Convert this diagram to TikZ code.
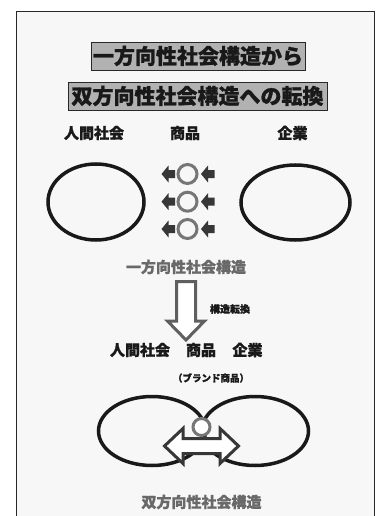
\documentclass[tikz,border=0pt]{standalone}
\usepackage{fontspec}
\newfontfamily\jp{Noto Sans CJK JP}[BoldFeatures={FakeBold=1.2}]
\usetikzlibrary{shapes.geometric}
\definecolor{framec}{RGB}{40,40,40}
\definecolor{paper}{RGB}{247,247,247}
\definecolor{titlefill}{RGB}{178,178,178}
\definecolor{ink}{RGB}{25,25,25}
\definecolor{grayink}{RGB}{105,105,105}
\definecolor{ringc}{RGB}{118,118,118}
\definecolor{arrowc}{RGB}{55,55,55}
\definecolor{hollowc}{RGB}{95,95,95}
\tikzset{
  titlebox/.style={draw=framec, line width=0.6pt, fill=titlefill, inner sep=0pt,
    minimum height=28pt, text=ink, font=\jp\bfseries\fontsize{21}{21}\selectfont},
  lab/.style={inner sep=0pt, text=ink, font=\jp\bfseries\fontsize{15}{15}\selectfont},
  graylab/.style={inner sep=0pt, text=grayink, font=\jp\bfseries\fontsize{15}{15}\selectfont},
  smalllab/.style={inner sep=0pt, text=ink, font=\jp\bfseries\fontsize{#1}{#1}\selectfont},
  oval/.style={draw=ink, ellipse, line width=3.5pt, inner sep=0pt},
  ring/.style={draw=ringc, circle, line width=3pt, minimum size=19pt, inner sep=0pt},
  smallarrow/.style={fill=arrowc},
  hollow/.style={draw=#1, fill=white, line width=3pt, line join=miter},
}
\newcommand\leftblock[1]{% tip at coordinate #1, pointing left
  \fill[smallarrow] (#1) -- ++(7,-8.5) -- ++(0,4.5) -- ++(6.5,0) -- ++(0,8) -- ++(-6.5,0) -- ++(0,4.5) -- cycle;}
\begin{document}
\begin{tikzpicture}[x=1pt,y=-1pt]
\clip (0,0) rectangle (378,516);
\fill[white] (0,0) rectangle (378,516);
\draw[fill=paper, draw=framec, line width=1pt] (16,11.5) rectangle (374,530);

% titles
\node[titlebox, minimum width=214pt] (t1) at (198,56) {一方向性社会構造から};
\node[titlebox, minimum width=259pt] (t2) at (197.5,96) {双方向性社会構造への転換};

% top labels
\node[lab] (h1) at (94,133) {人間社会};
\node[lab] (s1) at (185,133) {商品};
\node[lab] (k1) at (292.5,133) {企業};

% top ellipses
\node[oval, minimum width=96pt, minimum height=76pt] (e1) at (96,202) {};
\node[oval, minimum width=109pt, minimum height=75pt] (e2) at (295.5,202.5) {};

% rings and arrows
\foreach \i/\y in {1/174,2/201.7,3/229}{
  \coordinate (la\i) at (161.5,\y);
  \coordinate (ra\i) at (201,\y);
  \leftblock{la\i}
  \leftblock{ra\i}
  \node[ring] (r\i) at (187.5,\y) {};
}

\node[graylab] (one) at (186,267) {一方向性社会構造};

% hollow down arrow
\coordinate (dtip) at (186,340);
\draw[hollow=hollowc] (dtip) -- ++(18.5,-19) -- ++(-9,0) -- ++(0,-39.5) -- ++(-19,0)
  -- ++(0,39.5) -- ++(-9,0) -- cycle;
\node[smalllab=10] (conv) at (230,309) {構造転換};

% second labels
\node[lab] (h2) at (140,350) {人間社会};
\node[lab] (s2) at (201,350) {商品};
\node[lab] (k2) at (247.5,350) {企業};
\node[smalllab=9.5] (brand) at (211,378) {（ブランド商品）};

% bottom figure
\node[oval, minimum width=107pt, minimum height=69pt] (e3) at (152,431) {};
\node[oval, minimum width=107pt, minimum height=69pt] (e4) at (255,431) {};
\coordinate (ltip) at (164.5,446);
\draw[hollow=arrowc] (ltip) -- ++(18.5,-17.5) -- ++(0,10) -- ++(37,0) -- ++(0,-10)
  -- ++(18.5,17.5) -- ++(-18.5,17.5) -- ++(0,-10) -- ++(-37,0) -- ++(0,10) -- cycle;
\node[circle, draw=ringc, fill=white, line width=3pt, minimum size=17pt, inner sep=0pt]
  (r4) at (201.5,427) {};

\node[graylab] (two) at (201.5,502) {双方向性社会構造};
\end{tikzpicture}
\end{document}
